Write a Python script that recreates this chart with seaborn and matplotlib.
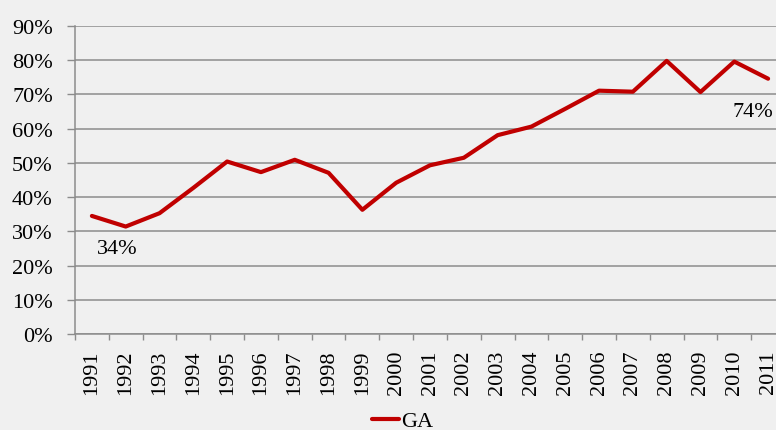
import numpy as np
import pandas as pd
import matplotlib
matplotlib.use("Agg")
import matplotlib.pyplot as plt
from matplotlib.ticker import FixedLocator, PercentFormatter
from matplotlib.lines import Line2D
import seaborn as sns

years = [str(y) for y in range(1991, 2012)]
ga_values = [34.5, 31.4, 35.3, 42.7, 50.4, 47.3, 50.9, 47.1, 36.3, 44.2, 49.3,
             51.5, 58.1, 60.6, 65.8, 71.1, 70.8, 79.8, 70.7, 79.6, 74.6]
series_name = "GA"
first_label = "34%"
last_label = "74%"
y_ticks = [0, 10, 20, 30, 40, 50, 60, 70, 80, 90]

df = pd.DataFrame({"year": years, "value": ga_values, "series": series_name})

sns.set_theme(style="white")
plt.rcParams["font.family"] = ["Liberation Serif", "DejaVu Serif"]

bg = "#f0f0f0"
fig = plt.figure(figsize=(7.76, 4.31), dpi=100, facecolor=bg)
ax = fig.add_axes([75/776, 96/431, 710/776, 308/431])
ax.set_facecolor(bg)

sns.lineplot(data=df, x="year", y="value", hue="series", palette=["#c00000"],
             linewidth=3, ax=ax, legend=False, sort=False)

ax.set_xlim(-0.5, len(years) - 0.5)
ax.set_ylim(0, 90)
ax.set_yticks(y_ticks)
ax.yaxis.set_major_formatter(PercentFormatter(decimals=0))
ax.grid(axis="y", color="#8c8c8c", linewidth=1.1)
ax.set_axisbelow(True)

ax.set_xticks(range(len(years)))
ax.set_xticklabels(years, rotation=90)
ax.xaxis.set_minor_locator(FixedLocator(np.arange(-0.5, len(years), 1)))
ax.tick_params(axis="x", which="major", length=0, pad=11, labelsize=16, labelcolor="black")
ax.tick_params(axis="x", which="minor", length=4.5, width=1, color="#8c8c8c", bottom=True)
ax.tick_params(axis="y", which="major", length=6, width=1, color="#8c8c8c", left=True,
               labelsize=16, pad=10, labelcolor="black")

for side in ["top", "right"]:
    ax.spines[side].set_visible(False)
for side in ["left", "bottom"]:
    ax.spines[side].set_color("#8c8c8c")
    ax.spines[side].set_linewidth(1.1)

ax.set_xlabel("")
ax.set_ylabel("")

ax.text(0.76, 25.0, first_label, ha="center", va="center", fontsize=16, color="black")
ax.text(19.56, 64.9, last_label, ha="center", va="center", fontsize=16, color="black")

handle = Line2D([], [], color="#c00000", linewidth=3)
leg = fig.legend([handle], [series_name], loc="center", bbox_to_anchor=(403/776, 9/431),
                 frameon=False, fontsize=16, handlelength=1.2, handletextpad=0.1,
                 borderaxespad=0, borderpad=0)
for t in leg.get_texts():
    t.set_color("black")

fig.savefig("out.png", dpi=100, facecolor=bg)
